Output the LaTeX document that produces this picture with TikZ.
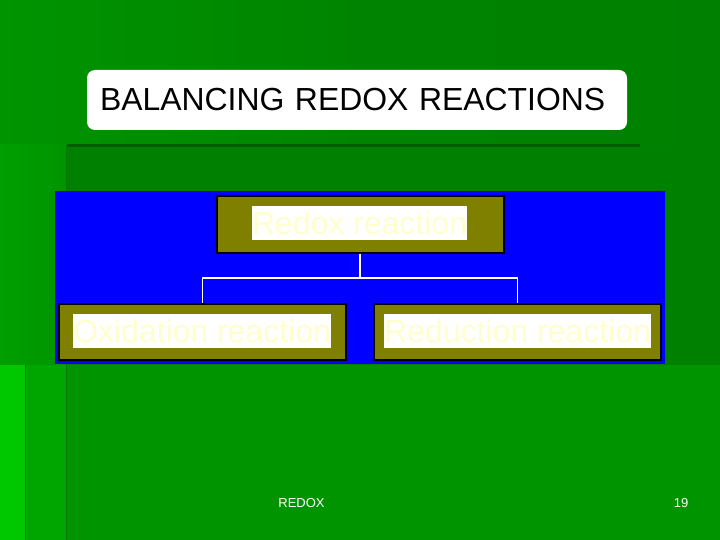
\documentclass[tikz,border=0pt]{standalone}
\usepackage{fontspec}
\setmainfont{Liberation Sans}
\usetikzlibrary{positioning}

\definecolor{slidegreen}{RGB}{0,148,0}
\definecolor{topgreen}{RGB}{0,128,0}
\definecolor{midgreen}{RGB}{0,166,0}
\definecolor{lightgreen}{RGB}{0,200,0}
\definecolor{darkgreen}{RGB}{0,92,0}
\definecolor{lineGreen}{RGB}{0,118,0}
\definecolor{panelblue}{RGB}{0,0,255}
\definecolor{boxolive}{RGB}{128,128,0}
\definecolor{paleyellow}{RGB}{255,255,205}

\tikzset{
  titlebox/.style={fill=white, rounded corners=8pt, minimum width=540pt,
    minimum height=60pt, inner xsep=13pt, text width=514pt, align=left,
    font=\fontsize{31.9}{36}\selectfont},
  olivebox/.style={fill=boxolive, draw=black, line width=2pt,
    minimum width=287pt, minimum height=56pt, inner sep=0pt},
  textbar/.style={fill=white, text=paleyellow, inner sep=0pt,
    minimum height=34pt, font=\fontsize{32}{34}\selectfont},
  wire/.style={draw=white, line width=1.6pt},
  footer/.style={text=white, inner sep=0pt, font=\fontsize{13}{15}\selectfont}
}

\begin{document}
\begin{tikzpicture}[x=1pt, y=-1pt]

% Sfondo della slide
\useasboundingbox (0,0) rectangle (720,540);
\fill[topgreen] (0,0) rectangle (720,540);
\shade[left color=slidegreen, right color=topgreen, middle color=topgreen!80!slidegreen] (0,0) rectangle (720,145);
\shade[left color=midgreen!80!topgreen, right color=slidegreen] (0,145) rectangle (67,365);
\fill[topgreen] (67,145) rectangle (720,365);
\fill[lightgreen] (0,365) rectangle (25,540);
\fill[midgreen] (25,365) rectangle (67,540);
\fill[slidegreen] (67,365) rectangle (720,540);
\draw[darkgreen, line width=3pt] (67,145.5) -- (640,145.5);
\draw[lineGreen, line width=1.5pt] (66.5,145) -- (66.5,540);
\draw[lineGreen, line width=1.5pt] (25.5,365) -- (25.5,540);

% Titolo
\node[titlebox] (title) at (357,100) {BALANCING REDOX REACTIONS};

% Pannello blu
\fill[panelblue] (55,191) rectangle (665,364);

% Nodi del diagramma
\node[olivebox] (redox) at (360,224.5) {};
\node[olivebox] (oxid) at (202.5,331.5) {};
\node[olivebox] (reduc) at (517.5,331.5) {};

\node[textbar] (redoxtxt) at (359.5,223) {Redox reaction};
\node[textbar] (oxidtxt) at (202,331) {Oxidation reaction};
\node[textbar] (reductxt) at (517.5,331) {Reduction reaction};

% Collegamenti
\coordinate (split) at (360,278);
\draw[wire] (redox.south) -- (split);
\draw[wire] (oxid.north) |- (split) -| (reduc.north);

% Pie' di pagina
\node[footer] (foot) at (301.5,503) {REDOX};
\node[footer] (page) at (681,503) {19};

\end{tikzpicture}
\end{document}
